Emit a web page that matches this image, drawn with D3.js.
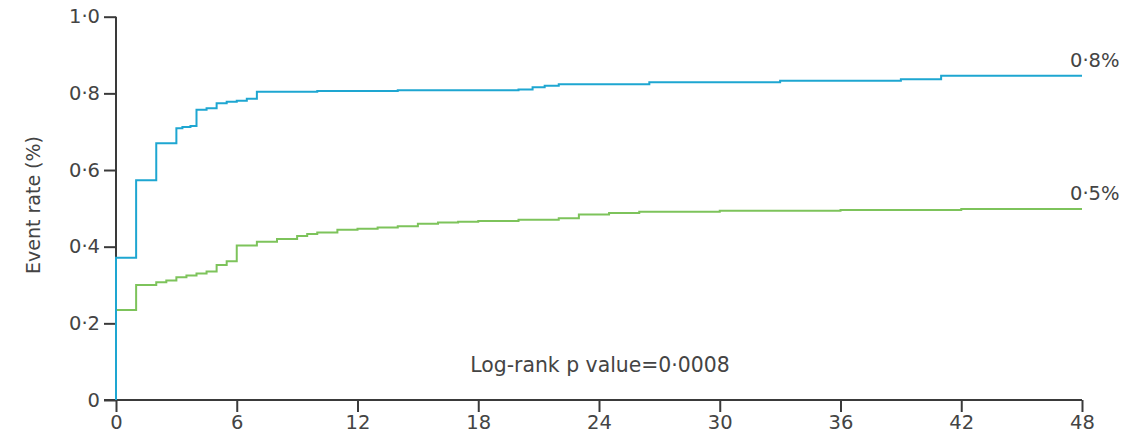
<!DOCTYPE html>
<html>
<head>
<meta charset="utf-8">
<script src="https://cdn.jsdelivr.net/npm/d3@7"></script>
<style>
  html, body { margin: 0; padding: 0; background: #fff; }
  svg text { font-family: "DejaVu Sans", "Open Sans", sans-serif; fill: #444; }
</style>
</head>
<body>
<svg id="chart" width="1137" height="440"></svg>
<script>
// Cumulative event rate (%) by month of follow-up
const blueTimes  = [0, 0, 1, 2, 3, 3.3, 3.7, 4, 4.5, 5, 5.5, 6, 6.5, 7, 10, 14, 20, 20.7, 21.3, 22, 26.5, 33, 39, 41, 48];
const blueValues = [0, 0.371, 0.573, 0.670, 0.709, 0.712, 0.715, 0.757, 0.761, 0.774, 0.778, 0.781, 0.786, 0.804, 0.806, 0.808, 0.810, 0.816, 0.820, 0.824, 0.829, 0.833, 0.837, 0.846, 0.846];

const greenTimes  = [0, 0, 1, 2, 2.5, 3, 3.5, 4, 4.5, 5, 5.5, 6, 7, 8, 9, 9.5, 10, 11, 12, 13, 14, 15, 16, 17, 18, 20, 22, 23, 24.5, 26, 30, 36, 42, 48];
const greenValues = [0, 0.235, 0.300, 0.307, 0.312, 0.320, 0.325, 0.330, 0.335, 0.352, 0.362, 0.403, 0.413, 0.420, 0.428, 0.433, 0.437, 0.444, 0.447, 0.450, 0.453, 0.460, 0.463, 0.465, 0.467, 0.470, 0.474, 0.484, 0.488, 0.491, 0.494, 0.496, 0.498, 0.498];

const xTicks = [0, 6, 12, 18, 24, 30, 36, 42, 48];
const yTicks = [0, 0.2, 0.4, 0.6, 0.8, 1.0];
const yTitle = "Event rate (%)";
const pValueText = "Log-rank p value=0·0008";

const svg = d3.select("#chart");
const x = d3.scaleLinear().domain([0, 48]).range([116, 1082]);
const y = d3.scaleLinear().domain([0, 1]).range([400, 16.7]);

// Lancet-style decimal point (middle dot)
const dot = s => s.replace(".", "·");
const fmtY = v => v === 0 ? "0" : dot(d3.format(".1f")(v));

const axisColor = "#3a3a3a";
const textColor = "#444";
const fontFamily = "'DejaVu Sans', sans-serif";
const fontSize = 19.5;

// y axis
const yAxis = svg.append("g")
  .attr("transform", `translate(${x(0)},0)`)
  .call(d3.axisLeft(y).tickValues(yTicks).tickFormat(fmtY).tickSize(12).tickPadding(4));
// x axis
const xAxis = svg.append("g")
  .attr("transform", `translate(0,${y(0)})`)
  .call(d3.axisBottom(x).tickValues(xTicks).tickFormat(d3.format("d")).tickSize(12).tickPadding(3));

[yAxis, xAxis].forEach(g => {
  g.select(".domain").attr("stroke", axisColor).attr("stroke-width", 2);
  g.selectAll(".tick line").attr("stroke", axisColor).attr("stroke-width", 2);
  g.selectAll(".tick text").attr("font-size", fontSize).attr("font-family", fontFamily).attr("fill", textColor);
});
xAxis.select(".domain").attr("d", `M${x(0) - 12},0H${x(48)}`);
yAxis.select(".domain").attr("d", `M0,${y(1)}V${y(0)}`);

// y title
svg.append("text")
  .attr("transform", `translate(40,205) rotate(-90)`)
  .attr("text-anchor", "middle")
  .attr("font-size", 19)
  .text(yTitle);

// step curves
const line = d3.line()
  .x(d => x(d[0]))
  .y(d => y(d[1]))
  .curve(d3.curveStepAfter);

const series = [
  { t: greenTimes, v: greenValues, color: "#7dc35b" },
  { t: blueTimes, v: blueValues, color: "#1ea6d1" }
];

series.forEach(s => {
  const pts = s.t.map((t, i) => [t, s.v[i]]);
  svg.append("path")
    .datum(pts)
    .attr("fill", "none")
    .attr("stroke", s.color)
    .attr("stroke-width", 2)
    .attr("d", line);
  const last = pts[pts.length - 1];
  svg.append("text")
    .attr("x", x(last[0]) - 12)
    .attr("y", y(last[1]) - 9)
    .attr("font-size", fontSize)
    .text(dot(d3.format(".1f")(last[1])) + "%");
});

// test statistic
svg.append("text")
  .attr("x", 600)
  .attr("y", 372)
  .attr("text-anchor", "middle")
  .attr("font-size", 20.4)
  .text(pValueText);
</script>
</body>
</html>
